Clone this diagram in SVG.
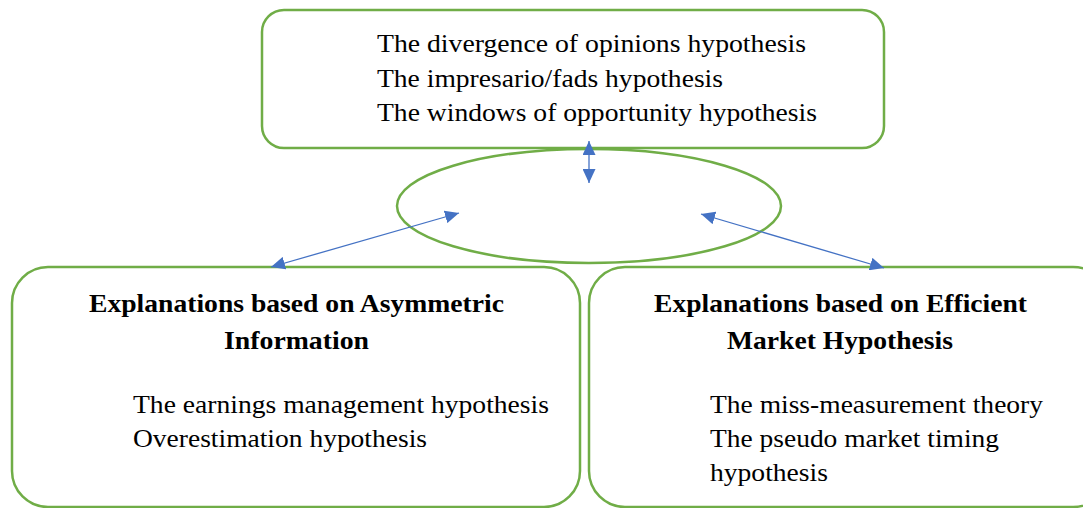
<svg xmlns="http://www.w3.org/2000/svg" width="1083" height="508" viewBox="0 0 1083 508">
<style>
.box{fill:none;stroke:#70AD47;stroke-width:2.5}
.t{font-family:"Liberation Serif",serif;font-size:26px;fill:#000}
.b{font-family:"Liberation Serif",serif;font-size:26px;font-weight:bold;fill:#000}
.c{stroke:#4472C4;stroke-width:1.3;fill:none;marker-start:url(#ah);marker-end:url(#ah)}
</style>
<defs>
<marker id="ah" viewBox="0 0 14 13" refX="14" refY="6.5" markerWidth="14" markerHeight="13" markerUnits="userSpaceOnUse" orient="auto-start-reverse">
<path d="M0,0 L14,6.5 L0,13 z" fill="#4472C4"/>
</marker>
<clipPath id="clipR"><rect x="589" y="267" width="494" height="220"/></clipPath>
</defs>
<g id="top">
<rect class="box" x="262" y="10" width="622" height="138" rx="22"/>
<text class="t" x="377" y="52" textLength="429" lengthAdjust="spacingAndGlyphs">The divergence of opinions hypothesis</text>
<text class="t" x="377" y="87" textLength="346" lengthAdjust="spacingAndGlyphs">The impresario/fads hypothesis</text>
<text class="t" x="377" y="121" textLength="440" lengthAdjust="spacingAndGlyphs">The windows of opportunity hypothesis</text>
</g>
<g id="center">
<ellipse class="box" cx="589" cy="206" rx="192" ry="57"/>
</g>
<g id="left">
<rect class="box" x="12" y="267" width="568" height="240" rx="36"/>
<text class="b" x="89" y="312" textLength="415" lengthAdjust="spacingAndGlyphs">Explanations based on Asymmetric</text>
<text class="b" x="224" y="349" textLength="145" lengthAdjust="spacingAndGlyphs">Information</text>
<text class="t" x="133" y="413" textLength="416" lengthAdjust="spacingAndGlyphs">The earnings management hypothesis</text>
<text class="t" x="133" y="447" textLength="294" lengthAdjust="spacingAndGlyphs">Overestimation hypothesis</text>
</g>
<g id="right">
<rect class="box" x="589" y="267" width="520" height="240" rx="36"/>
<text class="b" x="654" y="312" textLength="373" lengthAdjust="spacingAndGlyphs">Explanations based on Efficient</text>
<text class="b" x="727" y="349" textLength="226" lengthAdjust="spacingAndGlyphs">Market Hypothesis</text>
<g clip-path="url(#clipR)">
<text class="t" x="710" y="413" textLength="333" lengthAdjust="spacingAndGlyphs">The miss-measurement theory</text>
<text class="t" x="710" y="447" textLength="289" lengthAdjust="spacingAndGlyphs">The pseudo market timing</text>
<text class="t" x="710" y="481" textLength="118" lengthAdjust="spacingAndGlyphs">hypothesis</text>
</g>
</g>
<g id="connectors">
<line class="c" x1="589" y1="141" x2="589" y2="183"/>
<line class="c" x1="271" y1="267" x2="459" y2="213"/>
<line class="c" x1="884" y1="268" x2="701" y2="214"/>
</g>
</svg>
